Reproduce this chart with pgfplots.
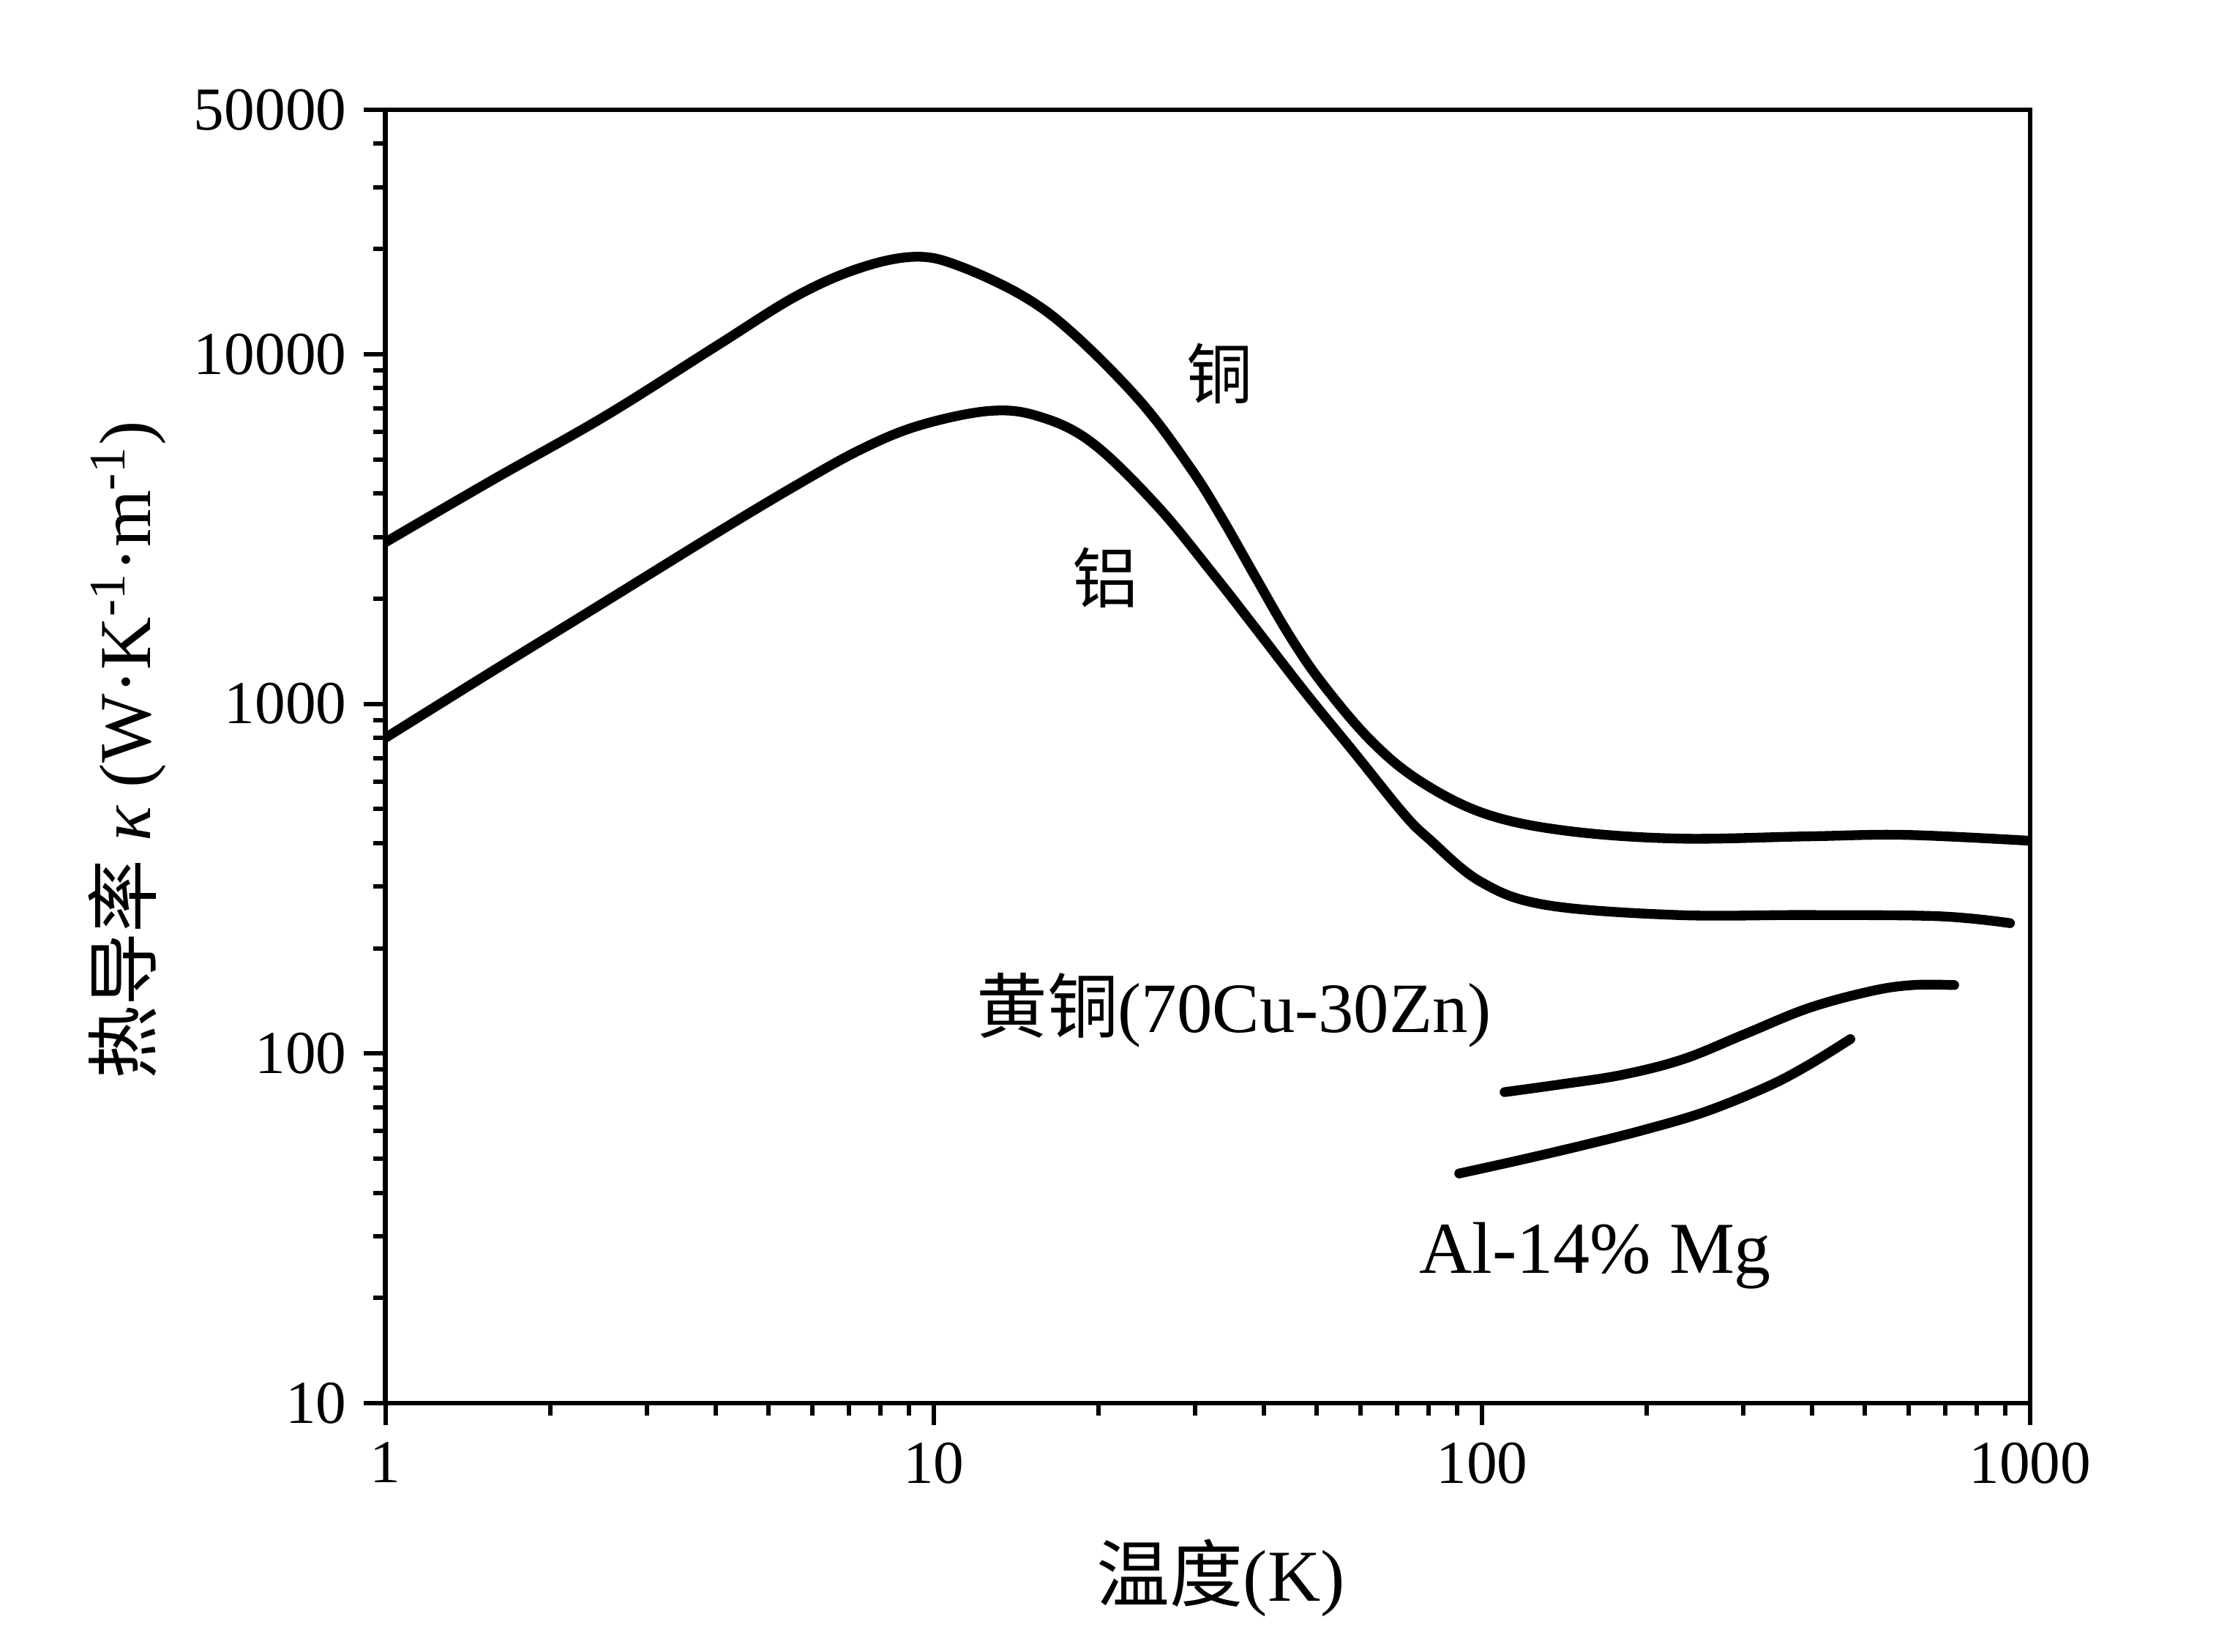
\documentclass[border=0pt]{standalone}
\usepackage{pgfplots}
\pgfplotsset{compat=1.18}
\usepackage{fontspec}
\setmainfont{Liberation Serif}
\newfontfamily\cjk{Noto Sans CJK SC}
\usetikzlibrary{calc}
\begin{document}
\begin{tikzpicture}
\begin{axis}[
  xmode=log, ymode=log,
  scale only axis, width=337pt, height=265pt,
  xmin=1, xmax=1000, ymin=10, ymax=50000,
  axis line style={line width=1pt},
  xtick={1,10,100,1000}, xticklabels={1,10,100,1000},
  ytick={10,100,1000,10000,50000}, yticklabels={10,100,1000,10000,50000},
  minor xtick={2,3,4,5,6,7,8,9,20,30,40,50,60,70,80,90,200,300,400,500,600,700,800,900},
  minor ytick={20,30,40,50,60,70,80,90,200,300,400,500,600,700,800,900,2000,3000,4000,5000,6000,7000,8000,9000,20000,30000,40000},
  tick align=outside,
  tick pos=left,
  major tick length=4.5pt, minor tick length=2.5pt,
  every tick/.style={black, line width=0.9pt},
  tick label style={font=\fontsize{12.5}{14}\selectfont},
  xlabel={{\cjk 温度}(K)},
  ylabel={{\cjk 热导率} {\itshape κ} (W·K\textsuperscript{-1}·m\textsuperscript{-1})},
  xlabel style={at={(axis description cs:0.508,-0.135)}, anchor=center, font=\fontsize{15}{17}\selectfont},
  ylabel style={at={(axis description cs:-0.157,0.505)}, anchor=center, font=\fontsize{15}{17}\selectfont},
  curve/.style={black, no markers, line width=2pt, line cap=round, line join=round, smooth, tension=0.6},
]
% Copper
\addplot[curve] coordinates {
(1,2900) (1.56,4350) (2.51,6640) (4.0,10520) (5.63,14700) (7.38,17700) (9.3,19000) (11.2,17810) (14.7,14530) (18.2,11250) (24.0,7230) (29.5,4690) (33.6,3386) (38.8,2279) (44.5,1574) (51.1,1146) (62.6,788) (76.8,604) (101,486) (142,434) (227,412) (393,418) (593,422) (1000,406)
};
% Aluminium
\addplot[curve] coordinates {
(1,800) (1.56,1235) (2.51,1955) (4.0,3070) (5.63,4230) (7.38,5350) (9.4,6250) (12.6,6880) (15.5,6650) (19.4,5600) (25.5,3700) (32.5,2330) (38.8,1633) (47.6,1079) (58.7,721) (72,485) (80.2,410) (99.5,310) (131,266) (227,249) (393,249) (681,247) (919,236)
};
% Brass 70Cu-30Zn
\addplot[curve] coordinates {
(110,77.6) (138,81.5) (180,86.9) (233,96.4) (303,114) (395,135) (514,151) (611,157) (727,157)
};
% Al-14% Mg
\addplot[curve] coordinates {
(90.9,45.4) (116,49.4) (151,54.4) (196,60.3) (255,68.1) (332,80.5) (395,92.9) (470,110)
};
\node[font=\fontsize{13.5}{15}\selectfont] at (axis cs:33.2,8790) {\cjk 铜};
\node[font=\fontsize{13.5}{15}\selectfont] at (axis cs:20.6,2290) {\cjk 铝};
\node[font=\fontsize{14.5}{16}\selectfont] at (axis cs:35.3,133) {{\cjk 黄铜}(70Cu-30Zn)};
\node[font=\fontsize{15}{17}\selectfont] at (axis cs:161,26.4) {Al-14\% Mg};
\end{axis}
\pgfresetboundingbox
\path ($(current axis.south west)+(-79pt,-50.9pt)$) rectangle ($(current axis.north east)+(42.6pt,22.5pt)$);
\end{tikzpicture}
\end{document}
